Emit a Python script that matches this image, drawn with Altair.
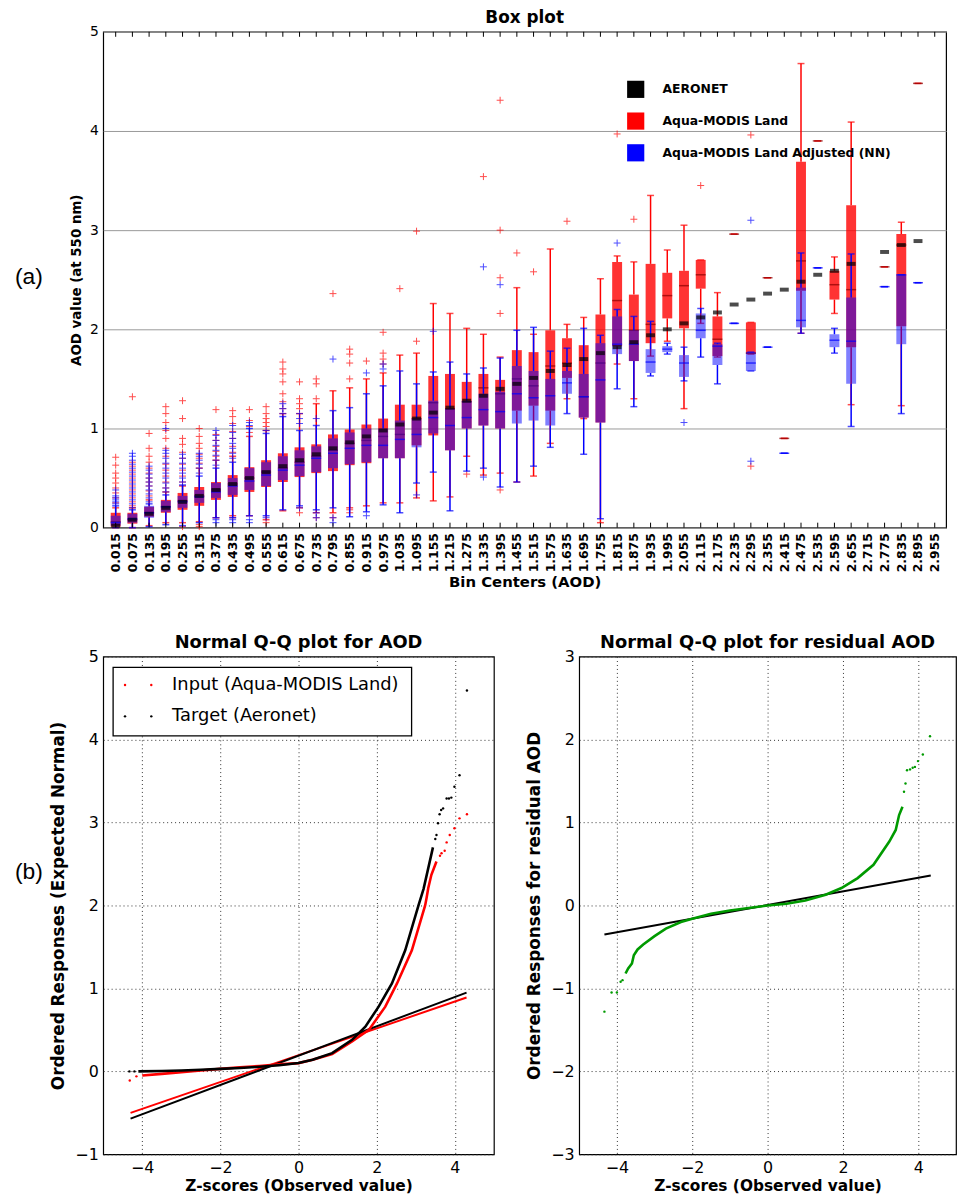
import altair as alt
import pandas as pd

FONT = "DejaVu Sans"

# ---------------- (a) Box plot data ----------------
BIN_CENTERS = [0.015, 0.075, 0.135, 0.195, 0.255, 0.315, 0.375, 0.435, 0.495, 0.555,
               0.615, 0.675, 0.735, 0.795, 0.855, 0.915, 0.975, 1.035, 1.095, 1.155,
               1.215, 1.275, 1.335, 1.395, 1.455, 1.515, 1.575, 1.635, 1.695, 1.755,
               1.815, 1.875, 1.935, 1.995, 2.055, 2.115, 2.175, 2.235, 2.295, 2.355,
               2.415, 2.475, 2.535, 2.595, 2.655, 2.715, 2.775, 2.835, 2.895, 2.955]

AERONET_MED = [0.02, 0.08, 0.14, 0.2, 0.26, 0.32, 0.38, 0.44, 0.5, 0.56,
               0.62, 0.68, 0.74, 0.8, 0.86, 0.92, 0.98, 1.04, 1.1, 1.16,
               1.21, 1.28, 1.33, 1.4, 1.45, 1.51, 1.58, 1.64, 1.7, 1.76,
               1.82, 1.87, 1.94, 2.0, 2.06, 2.12, 2.17, 2.25, 2.3, 2.36,
               2.4, 2.48, 2.55, 2.59, 2.66, None, 2.78, 2.85, 2.89, None]

# (whisker low, q1, median, q3, whisker high); a single number = one retrieval only
RED_STATS = [
    (0.0, 0.01, 0.06, 0.15, 0.2), (0.0, 0.04, 0.08, 0.15, 0.2),
    (0.02, 0.11, 0.15, 0.21, 0.28), (0.05, 0.15, 0.21, 0.28, 0.36),
    (0.05, 0.18, 0.27, 0.35, 0.42), (0.06, 0.22, 0.32, 0.41, 0.6),
    (0.1, 0.28, 0.38, 0.46, 0.68), (0.12, 0.31, 0.44, 0.53, 0.72),
    (0.12, 0.36, 0.5, 0.61, 0.92), (0.08, 0.41, 0.56, 0.68, 0.98),
    (0.17, 0.46, 0.6, 0.75, 1.15), (0.2, 0.51, 0.66, 0.81, 1.15),
    (0.15, 0.55, 0.72, 0.84, 1.25), (0.15, 0.57, 0.78, 0.94, 1.38),
    (0.2, 0.63, 0.85, 0.99, 1.41), (0.22, 0.65, 0.88, 1.04, 1.5),
    (0.25, 0.7, 0.92, 1.1, 1.56), (0.25, 0.7, 0.94, 1.24, 1.74),
    (0.3, 0.83, 1.1, 1.24, 1.76), (0.27, 0.93, 1.26, 1.53, 2.26),
    (0.31, 0.78, 1.2, 1.55, 2.16), (0.72, 1.0, 1.27, 1.47, 2.01),
    (0.53, 1.03, 1.41, 1.55, 1.95), (0.55, 1.0, 1.35, 1.49, 1.72),
    (0.46, 1.18, 1.5, 1.79, 2.42), (0.52, 1.23, 1.43, 1.77, 1.95),
    (0.85, 1.18, 1.63, 1.99, 2.81), (1.3, 1.51, 1.66, 1.91, 2.05),
    (1.1, 1.11, 1.32, 1.84, 2.12), (0.05, 1.06, 1.66, 2.15, 2.51),
    (1.65, 1.83, 2.29, 2.68, 2.74), (1.3, 1.68, 1.99, 2.35, 2.68),
    (1.73, 1.86, 2.05, 2.66, 3.35), (1.88, 2.11, 2.34, 2.57, 2.8),
    (1.2, 2.01, 2.44, 2.59, 3.05), (2.06, 2.41, 2.55, 2.7, 2.7),
    (1.72, 1.73, 1.9, 2.13, 2.37), 2.96,
    (1.75, 1.75, 1.76, 2.07, 2.07), 2.52,
    0.9, (1.96, 2.39, 2.69, 3.69, 4.68),
    3.9, (2.16, 2.3, 2.45, 2.59, 2.73),
    (1.24, 1.82, 2.4, 3.25, 4.09), None,
    2.63, (1.23, 2.03, 2.85, 2.96, 3.08),
    4.48, None,
]

BLUE_STATS = [
    (0.0, 0.02, 0.05, 0.12, 0.22), (0.0, 0.05, 0.09, 0.14, 0.18),
    (0.01, 0.1, 0.15, 0.22, 0.24), (0.03, 0.16, 0.21, 0.27, 0.33),
    (0.02, 0.2, 0.26, 0.32, 0.43), (0.05, 0.25, 0.31, 0.38, 0.52),
    (0.1, 0.3, 0.36, 0.45, 0.6), (0.1, 0.33, 0.42, 0.5, 0.66),
    (0.12, 0.38, 0.47, 0.6, 1.0), (0.12, 0.42, 0.53, 0.66, 0.95),
    (0.18, 0.48, 0.58, 0.72, 1.12), (0.22, 0.52, 0.63, 0.78, 0.98),
    (0.18, 0.56, 0.7, 0.82, 1.03), (0.2, 0.6, 0.75, 0.9, 1.18),
    (0.11, 0.64, 0.8, 0.96, 1.21), (0.16, 0.66, 0.83, 1.0, 1.35),
    (0.23, 0.7, 0.83, 1.0, 1.43), (0.15, 0.7, 0.89, 1.08, 1.58),
    (0.45, 0.81, 0.94, 1.1, 1.45), (0.56, 0.95, 1.11, 1.28, 1.57),
    (0.17, 0.78, 1.03, 1.2, 1.67), (0.57, 1.0, 1.11, 1.28, 1.55),
    (0.6, 1.03, 1.19, 1.35, 1.61), (0.41, 1.0, 1.17, 1.37, 1.71),
    (0.46, 1.05, 1.35, 1.63, 1.99), (0.62, 1.08, 1.31, 1.58, 2.02),
    (0.81, 1.03, 1.33, 1.5, 1.78), (1.15, 1.35, 1.46, 1.58, 1.81),
    (0.74, 1.11, 1.32, 1.55, 2.01), (0.09, 1.06, 1.49, 1.86, 1.94),
    (1.4, 1.75, 1.85, 2.13, 2.2), (1.22, 1.68, 1.85, 1.99, 2.13),
    (1.53, 1.56, 1.67, 1.8, 2.08), (1.75, 1.77, 1.8, 1.83, 1.86),
    (1.48, 1.52, 1.66, 1.74, 1.82), (1.72, 1.91, 1.99, 2.16, 2.21),
    (1.45, 1.64, 1.83, 1.85, 1.86), 2.06,
    (1.58, 1.58, 1.66, 1.77, 1.77), 1.82,
    0.75, (1.96, 2.02, 2.09, 2.42, 2.77),
    2.62, (1.76, 1.82, 1.89, 1.95, 2.01),
    (1.02, 1.45, 1.88, 2.32, 2.76), None,
    2.43, (1.15, 1.85, 2.55, 2.55, 2.55),
    2.47, None,
]

# outliers: bin index -> values
RED_OUTLIERS = {
    0: [0.25, 0.3, 0.35, 0.4, 0.45, 0.5, 0.55, 0.63, 0.71],
    1: [0.22, 0.26, 0.3, 0.34, 0.38, 0.42, 0.46, 0.5, 0.54, 0.58, 0.62, 0.66, 1.32],
    2: [0.32, 0.37, 0.42, 0.46, 0.5, 0.55, 0.6, 0.66, 0.72, 0.8, 0.95],
    3: [0.4, 0.46, 0.52, 0.58, 0.64, 0.72, 0.8, 0.9, 0.98, 1.06, 1.15, 1.22],
    4: [0.01, 0.46, 0.52, 0.58, 0.64, 0.7, 0.76, 0.84, 0.9, 1.1, 1.28],
    5: [0.01, 0.03, 0.65, 0.7, 0.74, 0.8, 0.85, 0.92, 1.0],
    6: [0.72, 0.77, 0.82, 0.88, 0.94, 1.19],
    7: [0.1, 0.76, 0.82, 0.9, 0.97, 1.05, 1.12, 1.18],
    8: [0.96, 1.02, 1.08, 1.19],
    9: [0.05, 1.02, 1.06, 1.1, 1.15, 1.22],
    10: [1.2, 1.27, 1.35, 1.47, 1.55, 1.6, 1.67],
    11: [0.15, 1.2, 1.25, 1.3, 1.47],
    12: [0.1, 1.3, 1.45, 1.5],
    13: [0.1, 2.36],
    14: [0.15, 0.18, 1.5, 1.66, 1.75, 1.8],
    15: [1.68],
    16: [1.65, 1.7, 1.76, 1.97],
    17: [2.41],
    18: [1.88, 2.99],
    21: [0.54],
    22: [3.54],
    23: [0.38, 2.16, 2.52, 3.0, 4.31],
    24: [2.77],
    25: [2.58],
    27: [3.09],
    30: [3.97],
    31: [3.11],
    35: [3.45],
    38: [0.62, 3.96],
}
BLUE_OUTLIERS = {
    0: [0.24, 0.26, 0.28, 0.3, 0.32, 0.38],
    1: [0.2, 0.24, 0.28, 0.32, 0.36, 0.4, 0.44, 0.48, 0.52, 0.56, 0.6, 0.64, 0.68, 0.72, 0.75],
    2: [0.26, 0.3, 0.34, 0.38, 0.42, 0.46, 0.5, 0.54, 0.58, 0.62],
    3: [0.36, 0.4, 0.45, 0.5, 0.55, 0.6, 0.65, 0.7, 0.75, 0.78, 1.0],
    4: [0.46, 0.5, 0.55, 0.6, 0.65, 0.7, 0.74],
    5: [0.55, 0.6, 0.64, 0.68, 0.72, 0.75],
    6: [0.05, 0.08, 0.63, 0.68, 0.73, 0.78, 0.83, 0.88, 0.93, 0.98],
    7: [0.05, 0.08, 0.7, 0.75, 0.8, 0.85, 0.9, 0.96, 1.03],
    8: [0.05, 0.08, 1.03, 1.06],
    9: [0.1, 0.98],
    10: [1.15, 1.2, 1.25],
    11: [0.2, 1.05, 1.1, 1.15],
    12: [0.1, 0.15, 1.1],
    13: [0.05, 0.1, 1.7],
    15: [0.12, 1.56],
    16: [1.6, 1.65],
    18: [0.33],
    19: [1.98],
    22: [0.51, 2.63],
    23: [2.45],
    30: [2.87],
    34: [1.06],
    38: [0.67, 3.1],
}

SERIES_TOP = ["AERONET", "Aqua-MODIS Land", "Aqua-MODIS Land Adjusted (NN)"]
COLORS_TOP = ["black", "red", "blue"]

# ---------------- (b) Q-Q data ----------------
QQ_SERIES = ["Input (Aqua-MODIS Land)", "Target (Aeronet)"]
QQ_COLORS = ["red", "black"]
# dense part of the ordered responses (z, value)
INPUT_CURVE_Z = [-4.0, -3.5, -3.0, -2.5, -2.0, -1.5, -1.0, -0.5, 0.0, 0.36, 0.86, 1.37, 1.8,
                 2.22, 2.52, 2.9, 3.24, 3.28, 3.32, 3.4, 3.53]
INPUT_CURVE_Y = [-0.05, -0.03, -0.01, 0.01, 0.03, 0.05, 0.065, 0.085, 0.1, 0.14, 0.21, 0.36, 0.5,
                 0.78, 1.06, 1.46, 2.0, 2.1, 2.21, 2.37, 2.53]
TARGET_CURVE_Z = [-4.1, -3.5, -3.0, -2.5, -2.0, -1.5, -1.0, -0.5, 0.0, 0.36, 0.86, 1.37, 1.71,
                  2.05, 2.39, 2.73, 3.07, 3.2, 3.32, 3.44]
TARGET_CURVE_Y = [0.0, 0.005, 0.01, 0.02, 0.03, 0.04, 0.055, 0.075, 0.1, 0.14, 0.22, 0.38, 0.54,
                  0.78, 1.06, 1.46, 2.0, 2.2, 2.45, 2.7]
# sparse tail points
INPUT_TAIL_Z = [-4.32, -4.15, 3.62, 3.66, 3.74, 3.79, 3.87, 3.99, 4.12, 4.31]
INPUT_TAIL_Y = [-0.11, -0.06, 2.6, 2.63, 2.66, 2.76, 2.85, 2.93, 3.05, 3.1]
TARGET_TAIL_Z = [-4.33, -4.2, 3.5, 3.53, 3.57, 3.61, 3.65, 3.7, 3.79, 3.85, 3.91, 3.99, 4.12, 4.31]
TARGET_TAIL_Y = [0.0, 0.0, 2.8, 2.85, 2.99, 3.1, 3.15, 3.17, 3.29, 3.29, 3.3, 3.43, 3.57, 4.59]
# reference (fit) lines: endpoints
INPUT_FIT_Z = [-4.3, 4.3]
INPUT_FIT_Y = [-0.5, 0.89]
TARGET_FIT_Z = [-4.3, 4.3]
TARGET_FIT_Y = [-0.57, 0.95]

RESID_CURVE_Z = [-3.77, -3.7, -3.6, -3.55, -3.45, -3.3, -3.0, -2.7, -2.3, -2.0, -1.5, -1.0, -0.5,
                 0.0, 0.5, 1.0, 1.54, 1.96, 2.39, 2.81, 3.23, 3.4, 3.49, 3.58]
RESID_CURVE_Y = [-0.82, -0.76, -0.7, -0.6, -0.53, -0.47, -0.37, -0.28, -0.2, -0.16, -0.1, -0.06, -0.03,
                 0.0, 0.02, 0.06, 0.13, 0.21, 0.33, 0.49, 0.77, 0.91, 1.09, 1.19]
RESID_TAIL_Z = [-4.33, -4.14, -4.0, -3.9, -3.85, 3.62, 3.66, 3.7, 3.78, 3.85, 3.91, 3.99, 4.12, 4.31]
RESID_TAIL_Y = [-1.28, -1.05, -1.05, -0.92, -0.9, 1.37, 1.47, 1.63, 1.64, 1.66, 1.67, 1.74, 1.82, 2.04]
RESID_FIT_Z = [-4.33, 4.33]
RESID_FIT_Y = [-0.35, 0.36]


# ---------------- tables ----------------
def stats_table(stats, name):
    rows = []
    for c, s in zip(BIN_CENTERS, stats):
        if s is None:
            continue
        if not isinstance(s, tuple):
            s = (s,) * 5
        rows.append({"bin": c, "series": name, "lo": s[0], "q1": s[1], "med": s[2], "q3": s[3], "hi": s[4]})
    return pd.DataFrame(rows)


def outlier_table(d):
    return pd.DataFrame([{"bin": BIN_CENTERS[i], "value": v} for i, vals in d.items() for v in vals])


red_df = stats_table(RED_STATS, SERIES_TOP[1])
blue_df = stats_table(BLUE_STATS, SERIES_TOP[2])
aero_df = pd.DataFrame([{"bin": c, "med": m} for c, m in zip(BIN_CENTERS, AERONET_MED) if m is not None])
red_out_df = outlier_table(RED_OUTLIERS)
blue_out_df = outlier_table(BLUE_OUTLIERS)
bins_df = pd.DataFrame({"bin": BIN_CENTERS})

# ---------------- top chart ----------------
TOP_W = 850
X_TOP = alt.X("bin:Q", scale=alt.Scale(domain=[-0.012, 2.978], nice=False, zero=False),
              axis=alt.Axis(values=BIN_CENTERS, format=".3f", labelAngle=270, labelFontWeight="bold",
                            labelFontSize=12.5, labelPadding=5, labelOverlap=False, labelFlush=False,
                            grid=False, title="Bin Centers (AOD)", titleFontSize=15,
                            titleFontWeight="bold", titlePadding=3))
Y_SCALE = alt.Scale(domain=[0, 5], nice=False, zero=False)
Y_AXIS = alt.Axis(values=[0, 1, 2, 3, 4, 5], format="d", grid=True, gridColor="#999999", gridWidth=1,
                  labelFontSize=14, labelPadding=5, title="AOD value (at 550 nm)",
                  titleFontSize=13.5, titleFontWeight="bold", titlePadding=6)


def Y(field):
    return alt.Y(field, scale=Y_SCALE, axis=Y_AXIS)


COLOR_TOP = alt.Color("series:N", scale=alt.Scale(domain=SERIES_TOP, range=COLORS_TOP),
                      legend=alt.Legend(orient="none", legendX=528, legendY=49, title=None,
                                        symbolType="square", symbolSize=300, symbolOpacity=1,
                                        symbolStrokeWidth=0, labelFontSize=12.5,
                                        labelFontWeight="bold", labelFont=FONT, labelOffset=18,
                                        labelLimit=400, rowPadding=14, padding=0,
                                        labelColor="black"))

CROSS = "M-1,0L1,0M0,-1L0,1"


def box_layers(df, out_df, color, box_opacity, med_color):
    box = alt.Chart(df).mark_bar(size=10, opacity=box_opacity).encode(
        x=X_TOP, y=Y("q1:Q"), y2="q3:Q", color=COLOR_TOP)
    wlo = alt.Chart(df).mark_rule(color=color, strokeWidth=1.5).encode(x=X_TOP, y=Y("lo:Q"), y2="q1:Q")
    whi = alt.Chart(df).mark_rule(color=color, strokeWidth=1.5).encode(x=X_TOP, y=Y("q3:Q"), y2="hi:Q")
    caps = alt.Chart(df).transform_fold(["lo", "hi"], as_=["end", "v"]).mark_tick(
        orient="horizontal", color=color, size=7, thickness=1.5).encode(x=X_TOP, y=Y("v:Q"))
    med = alt.Chart(df).mark_tick(orient="horizontal", color=med_color, size=10, thickness=1.5).encode(
        x=X_TOP, y=Y("med:Q"))
    out = alt.Chart(out_df).mark_point(shape=CROSS, size=49, filled=False, strokeWidth=1,
                                       color=color, opacity=0.7).encode(x=X_TOP, y=Y("value:Q"))
    return [box, wlo, whi, caps, med, out]


top_layers = []
top_layers += box_layers(red_df, red_out_df, "red", 0.8, "#8b0000")
top_layers += box_layers(blue_df, blue_out_df, "blue", 0.5, "blue")
top_layers.append(alt.Chart(aero_df).mark_tick(orient="horizontal", color="black", size=9, thickness=4)
                  .encode(x=X_TOP, y=Y("med:Q")))
top_layers.append(alt.Chart(bins_df).mark_rule(color="black", strokeWidth=1)
                  .encode(x=X_TOP, y=alt.datum(0), y2=alt.datum(0.05)))
top_layers.append(alt.Chart(bins_df).mark_rule(color="black", strokeWidth=1)
                  .encode(x=X_TOP, y=alt.datum(4.95), y2=alt.datum(5)))
top_layers.append(alt.Chart(pd.DataFrame({"t": ["(a)"]})).mark_text(
    font="Liberation Sans", fontSize=23, align="left", baseline="middle", color="black")
    .encode(text="t:N", x=alt.value(-89), y=alt.value(247)))

top = alt.layer(*top_layers).properties(
    width=TOP_W, height=500,
    title=alt.TitleParams("Box plot", fontSize=17, fontWeight="bold", offset=-2))

# ---------------- Q-Q charts ----------------
def qq_x():
    return alt.X("z:Q", scale=alt.Scale(domain=[-5, 5], nice=False, zero=False),
                 axis=alt.Axis(values=[-4, -2, 0, 2, 4], grid=True, gridDash=[1, 3], gridColor="#333333",
                               labelFontSize=16, labelPadding=5, title="Z-scores (Observed value)",
                               titleFontSize=15.5, titleFontWeight="bold", titlePadding=3))


def qq_y(domain, title):
    return alt.Y("y:Q", scale=alt.Scale(domain=domain, nice=False, zero=False),
                 axis=alt.Axis(values=list(range(domain[0], domain[1] + 1)), grid=True, gridDash=[1, 3],
                               gridColor="#333333", labelFontSize=16, labelPadding=5, title=title,
                               titleFontSize=17, titleFontWeight="bold", titlePadding=7))


def xy_table(name, zs, ys):
    return pd.DataFrame({"qq": name, "z": zs, "y": ys, "order": list(range(len(zs)))})


curve_df = pd.concat([xy_table(QQ_SERIES[0], INPUT_CURVE_Z, INPUT_CURVE_Y),
                      xy_table(QQ_SERIES[1], TARGET_CURVE_Z, TARGET_CURVE_Y)])
fit_df = pd.concat([xy_table(QQ_SERIES[0], INPUT_FIT_Z, INPUT_FIT_Y),
                    xy_table(QQ_SERIES[1], TARGET_FIT_Z, TARGET_FIT_Y)])
tail_df = pd.concat([xy_table(QQ_SERIES[0], INPUT_TAIL_Z, INPUT_TAIL_Y),
                     xy_table(QQ_SERIES[1], TARGET_TAIL_Z, TARGET_TAIL_Y)])

QQ_SCALE = alt.Scale(domain=QQ_SERIES, range=QQ_COLORS)
QQ_COLOR = alt.Color("qq:N", scale=QQ_SCALE, legend=None)
Y_LEFT = qq_y([-1, 5], "Ordered Responses (Expected Normal)")

left_layers = [
    alt.Chart(fit_df).mark_line(strokeWidth=2).encode(
        x=qq_x(), y=Y_LEFT, color=QQ_COLOR, detail="qq:N", order="order:Q"),
    alt.Chart(curve_df).mark_line(strokeWidth=2.6).encode(
        x=qq_x(), y=Y_LEFT, color=QQ_COLOR, detail="qq:N", order="order:Q"),
    alt.Chart(tail_df).mark_circle(size=6, opacity=1).encode(x=qq_x(), y=Y_LEFT, color=QQ_COLOR),
    alt.Chart(pd.DataFrame({"t": ["(b)"]})).mark_text(
        font="Liberation Sans", fontSize=23, align="left", baseline="middle", color="black")
    .encode(text="t:N", x=alt.value(-89), y=alt.value(217)),
    # legend box (matplotlib style, upper left)
    alt.Chart(pd.DataFrame({"k": [0]})).mark_rect(fill="white", stroke="black", strokeWidth=1.3).encode(
        x=alt.value(10), x2=alt.value(311), y=alt.value(11), y2=alt.value(80)),
]
for i, name in enumerate(QQ_SERIES):
    row = pd.DataFrame({"qq": [name]})
    ypos = 28.7 + 31.6 * i
    for xpos in (22, 48.5):
        left_layers.append(alt.Chart(row).mark_circle(size=6, opacity=1).encode(
            x=alt.value(xpos), y=alt.value(ypos), color=QQ_COLOR))
    left_layers.append(alt.Chart(row).mark_text(
        font=FONT, fontSize=18, align="left", baseline="middle", color="black").encode(
        text="qq:N", x=alt.value(69.5), y=alt.value(ypos)))

left = alt.layer(*left_layers).properties(
    width=394, height=502,
    title=alt.TitleParams("Normal Q-Q plot for AOD", fontSize=18, fontWeight="bold", offset=-3))

resid_curve = pd.DataFrame({"z": RESID_CURVE_Z, "y": RESID_CURVE_Y, "order": range(len(RESID_CURVE_Z))})
resid_tail = pd.DataFrame({"z": RESID_TAIL_Z, "y": RESID_TAIL_Y})
resid_fit = pd.DataFrame({"z": RESID_FIT_Z, "y": RESID_FIT_Y, "order": [0, 1]})

Y_RIGHT = qq_y([-3, 3], "Ordered Responses for  residual AOD")
GREEN = "#009a00"
right = alt.layer(
    alt.Chart(resid_fit).mark_line(color="black", strokeWidth=2).encode(x=qq_x(), y=Y_RIGHT, order="order:Q"),
    alt.Chart(resid_curve).mark_line(color=GREEN, strokeWidth=2.6).encode(x=qq_x(), y=Y_RIGHT, order="order:Q"),
    alt.Chart(resid_tail).mark_circle(color=GREEN, size=6, opacity=1).encode(x=qq_x(), y=Y_RIGHT),
).properties(width=380, height=502,
             title=alt.TitleParams("Normal Q-Q plot for  residual AOD", fontSize=18, fontWeight="bold",
                                   offset=-3))

bottom = alt.hconcat(left, right, spacing=30)

chart = alt.vconcat(
    top,
    bottom,
    spacing=42,
).resolve_scale(
    color="independent"
).resolve_legend(
    color="independent"
).properties(
    padding={"left": 6, "top": -5, "right": 0, "bottom": 0}
).configure_view(
    stroke="black", strokeWidth=1.2
).configure_axis(
    domain=False, ticks=False, labelColor="black", titleColor="black", labelFont=FONT, titleFont=FONT
).configure_title(
    font=FONT, fontWeight="bold", color="black", anchor="middle"
).configure_legend(
    labelFont=FONT
)

chart.save("out.html", embed_options={"renderer": "svg", "actions": False})
